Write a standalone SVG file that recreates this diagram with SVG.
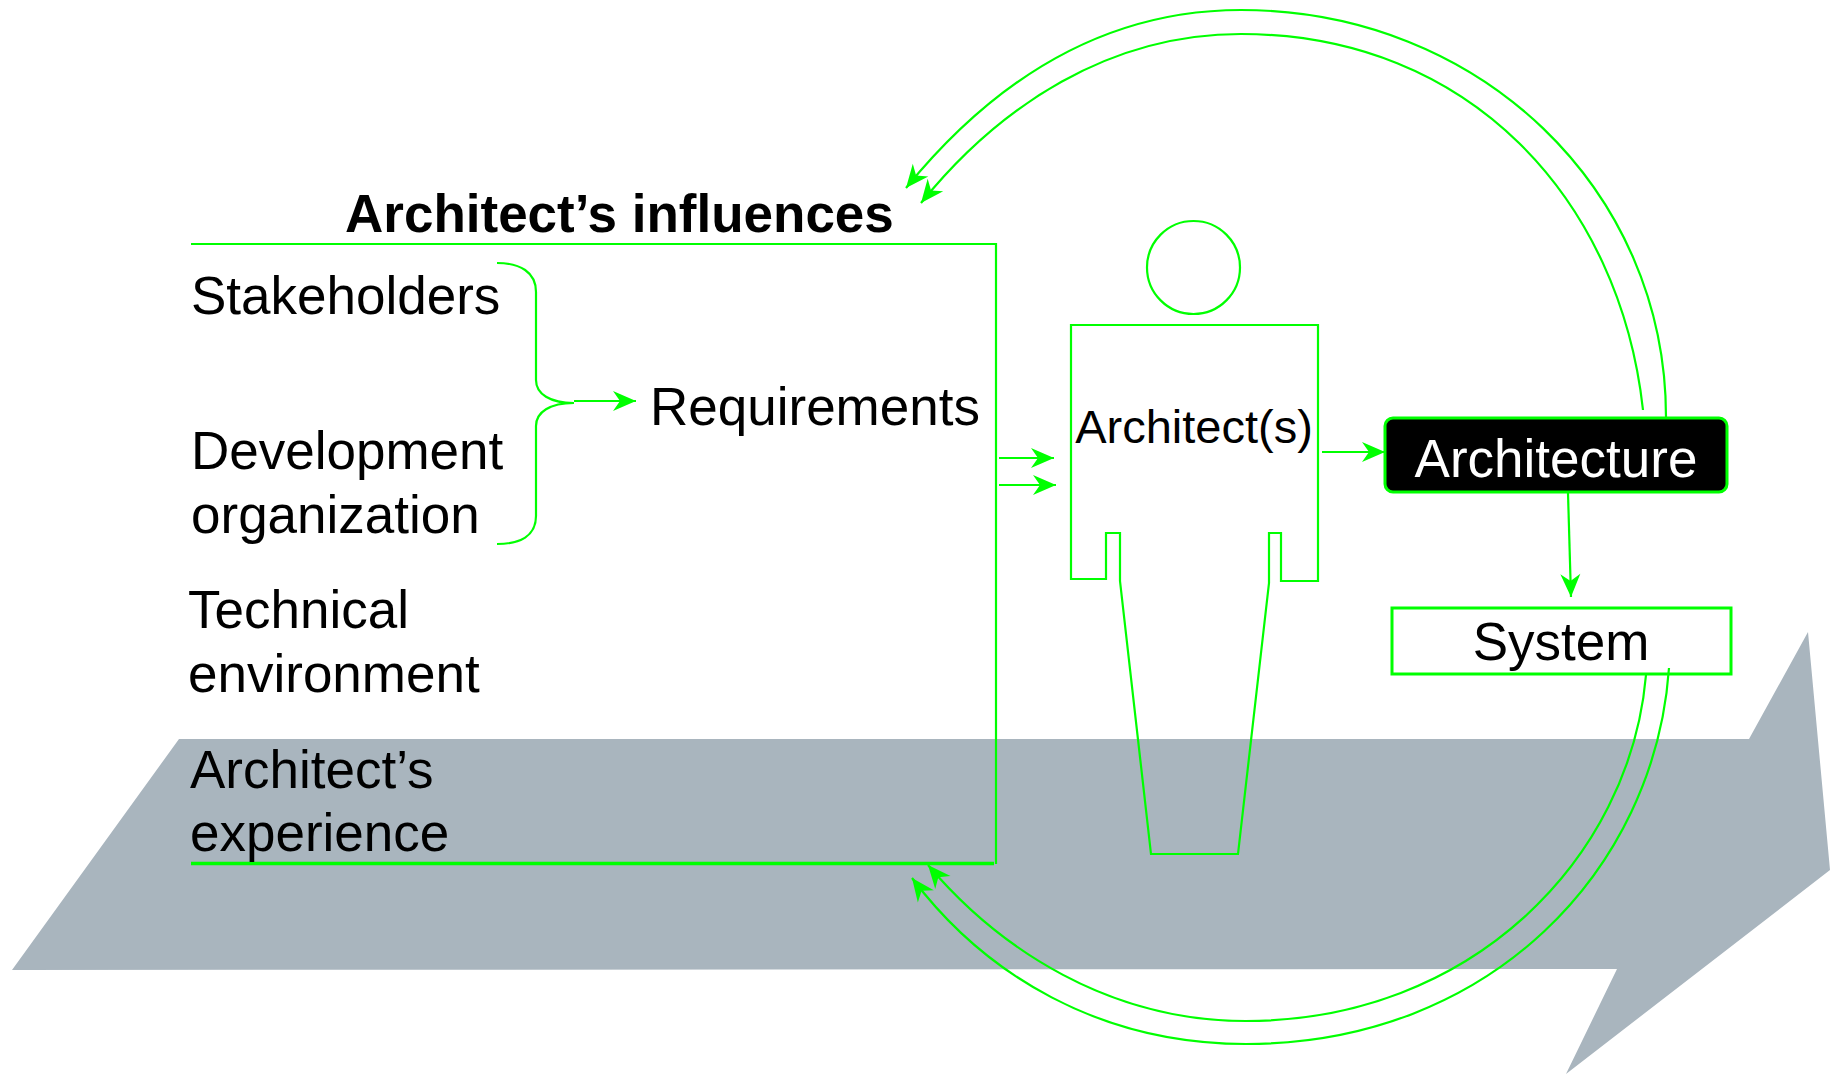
<svg xmlns="http://www.w3.org/2000/svg" width="1843" height="1074" viewBox="0 0 1843 1074">
  <style>
    .ln { fill: none; stroke: #00ff00; stroke-width: 2.2; }
    .t { font-family: "Liberation Sans", Arial, sans-serif; font-size: 53px; fill: #000; }
    .tb { font-family: "Liberation Sans", Arial, sans-serif; font-size: 53px; font-weight: bold; fill: #000; }
  </style>
  <defs>
    <marker id="ah" markerUnits="userSpaceOnUse" markerWidth="28" markerHeight="24" viewBox="-25 -12 28 24" refX="0" refY="0" orient="auto">
      <path d="M0,0 L-23,-10 L-16,0 L-23,10 Z" fill="#00ff00"/>
    </marker>
  </defs>
  <rect width="1843" height="1074" fill="#ffffff"/>

  <g id="timeline">
    <polygon points="12,970 179,739 1749,739 1808,632 1830,870 1566,1074 1617,969" fill="#a9b5be"/>
  </g>

  <g id="influences">
    <path class="ln" d="M191,244 H996 V864"/>
    <path d="M191,863.5 H994" fill="none" stroke="#00ff00" stroke-width="3.5"/>
    <text class="tb" x="345" y="232">Architect’s influences</text>
    <text class="t" x="191" y="314">Stakeholders</text>
    <text class="t" x="191" y="469">Development</text>
    <text class="t" x="191" y="533">organization</text>
    <text class="t" x="188" y="628">Technical</text>
    <text class="t" x="188" y="692">environment</text>
    <text class="t" x="190" y="788">Architect’s</text>
    <text class="t" x="190" y="851">experience</text>
    <path class="ln" d="M497,263 C520,263 536,272 536,292 V380 C536,394 550,403 574,403 C550,403 536,412 536,426 V516 C536,536 520,544 497,544"/>
  </g>

  <g id="requirements">
    <text class="t" x="650" y="425">Requirements</text>
  </g>

  <g id="architect">
    <circle class="ln" cx="1193.5" cy="267.5" r="46.5"/>
    <path class="ln" d="M1071,325 H1318 V581 H1281 V533 H1269 V583 L1238,854 H1151 L1120,581 V533 H1106 V579 H1071 Z"/>
    <text class="t" x="1194" y="443" text-anchor="middle" style="font-size:47px">Architect(s)</text>
  </g>

  <g id="architecture">
    <rect x="1385" y="418" width="342" height="74" rx="8" fill="#000" stroke="#00ff00" stroke-width="3"/>
    <text class="t" x="1556" y="477" text-anchor="middle" fill="#fff" style="fill:#fff">Architecture</text>
  </g>

  <g id="system">
    <rect x="1392" y="608" width="339" height="66" fill="#fff" stroke="#00ff00" stroke-width="3"/>
    <text class="t" x="1561" y="660" text-anchor="middle">System</text>
  </g>

  <g id="connectors">
    <path class="ln" d="M574,401 H636" marker-end="url(#ah)"/>
    <path class="ln" d="M999,458 H1054" marker-end="url(#ah)"/>
    <path class="ln" d="M999,485 H1056" marker-end="url(#ah)"/>
    <path class="ln" d="M1322,452 H1385" marker-end="url(#ah)"/>
    <path class="ln" d="M1568,493 L1571,597" marker-end="url(#ah)"/>
    <path class="ln" d="M1666,417 C1666,190 1480,10 1241,10 C1100,10 990,85 906,188" marker-end="url(#ah)"/>
    <path class="ln" d="M1643,410 C1620,200 1470,34 1241,34 C1110,34 1000,105 921,203" marker-end="url(#ah)"/>
    <path class="ln" d="M1646,675 C1630,860 1470,1021 1246,1021 C1110,1021 1000,950 928,865" marker-end="url(#ah)"/>
    <path class="ln" d="M1669,668 C1655,870 1490,1044 1246,1044 C1100,1044 985,975 912,878" marker-end="url(#ah)"/>
  </g>
</svg>
